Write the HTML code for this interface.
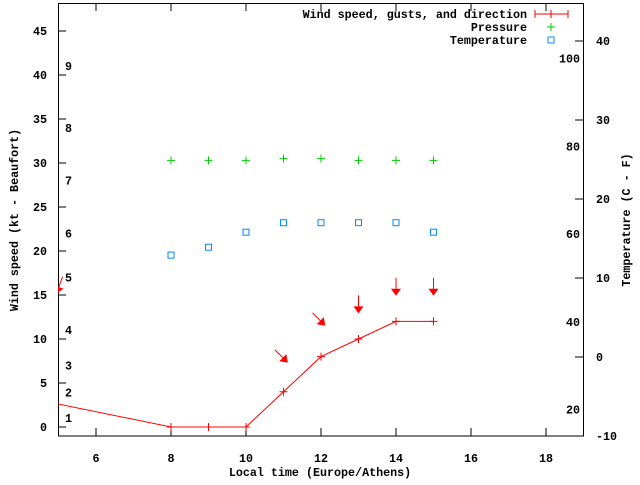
<!DOCTYPE html>
<html><head><meta charset="utf-8"><style>
body{margin:0;background:#fff}
svg text{font-family:"Liberation Mono",monospace;font-size:11.7px;font-weight:bold;fill:#000}
</style></head><body>
<svg width="640" height="480" xmlns="http://www.w3.org/2000/svg">
<defs><clipPath id="clip"><rect x="58" y="3" width="525" height="433"/></clipPath></defs>
<g id="axes"></g>
<g id="marks" clip-path="url(#clip)"></g>
<g id="legend"></g>
</svg>
<script>
const hours=[4,8,9,10,11,12,13,14,15];
const wind=[3.47,0,0,0,4,8,10,12,12];
const pHours=[8,9,10,11,12,13,14,15];
const pressure=[30.3,30.3,30.3,30.5,30.5,30.3,30.3,30.3];
const tHours=[8,9,10,11,12,13,14,15];
const temperature=[12.9,13.9,15.8,17,17,17,17,15.8];
const dHours=[5,11,12,13,14,15];
const gust=[15.8,7.8,12,13.6,15.6,15.6];
const dirDeg=[20,315,315,0,0,0];
const xTicks=[6,8,10,12,14,16,18];
const yTicks=[0,5,10,15,20,25,30,35,40,45];
const cTicks=[-10,0,10,20,30,40];
const fTicks=[20,40,60,80,100];
const bft=[[1,1],[2,3.9],[3,7],[4,11],[5,17],[6,22],[7,28],[8,34],[9,41]];
const NS='http://www.w3.org/2000/svg';
const X=h=>58.5+(h-5)*37.5;
const Y=v=>427-v*8.8;
const YC=c=>357-c*7.9;
const YF=f=>YC((f-32)*5/9);
function mk(p,tag,a,txt){const e=document.createElementNS(NS,tag);for(const k in a)e.setAttribute(k,a[k]);if(txt!==undefined)e.textContent=txt;p.appendChild(e);return e;}
const ax=document.getElementById('axes'),mg=document.getElementById('marks'),lg=document.getElementById('legend');
let e=mk(ax,'rect',{x:58.5,y:3.5,width:525,height:432.5,fill:'none',stroke:'#000','stroke-width':1});

xTicks.forEach(t=>{mk(ax,'line',{x1:X(t),x2:X(t),y1:436,y2:428,stroke:'#000'});mk(ax,'line',{x1:X(t),x2:X(t),y1:3,y2:11,stroke:'#000'});
 e=mk(ax,'text',{x:X(t),y:462,'text-anchor':'middle'},t);});
yTicks.forEach(t=>{mk(ax,'line',{x1:58,x2:66,y1:Y(t),y2:Y(t),stroke:'#000'});
 e=mk(ax,'text',{x:47,y:Y(t)+4,'text-anchor':'end'},t);});
cTicks.forEach(t=>{mk(ax,'line',{x1:575,x2:583,y1:YC(t),y2:YC(t),stroke:'#000'});
 e=mk(ax,'text',{x:596,y:YC(t)+4},t);});
fTicks.forEach(t=>{e=mk(ax,'text',{x:580,y:YF(t)+4,'text-anchor':'end'},t);});
bft.forEach(b=>{e=mk(ax,'text',{x:65,y:Y(b[1])+4},b[0]);});
e=mk(ax,'text',{x:320,y:476,'text-anchor':'middle'},'Local time (Europe/Athens)');
e=mk(ax,'text',{x:18,y:220,'text-anchor':'middle',transform:'rotate(-90 18 220)'},'Wind speed (kt - Beaufort)');
e=mk(ax,'text',{x:630,y:220,'text-anchor':'middle',transform:'rotate(-90 630 220)'},'Temperature (C - F)');
e=mk(mg,'polyline',{points:hours.map((h,i)=>X(h)+','+Y(wind[i])).join(' '),fill:'none',stroke:'#f00'});

function plus(g,x,y,c,n){const p=mk(g,'path',{d:`M${x-4},${y}H${x+4}M${x},${y-4}V${y+4}`,stroke:c,fill:'none'});}
hours.forEach((h,i)=>plus(mg,X(h),Y(wind[i]),'#f00','wind-point'));
pHours.forEach((h,i)=>plus(mg,X(h),Y(pressure[i]),'#0c0','pressure-point'));
tHours.forEach((h,i)=>{e=mk(mg,'rect',{x:X(h)-3,y:YC(temperature[i])-3,width:6,height:6,fill:'none',stroke:'#08f'});
 });
dHours.forEach((h,i)=>{const x=X(h),y=Y(gust[i]);const g=mk(mg,'g',{transform:`translate(${x},${y}) rotate(${dirDeg[i]})`});
 
 mk(g,'line',{x1:0,y1:-12,x2:0,y2:2,stroke:'#f00'});mk(g,'polygon',{points:'-5,-1 5,-1 0,6',fill:'#f00'});});
const L=[['Wind speed, gusts, and direction',14],['Pressure',27],['Temperature',40]];
L.forEach(l=>{e=mk(lg,'text',{x:527,y:l[1]+4,'text-anchor':'end'},l[0]);});
mk(lg,'path',{d:'M535,14H568M535,10V18M568,10V18M551,10V18',stroke:'#f00',fill:'none'});
plus(lg,551,27,'#0c0','legend-pressure-marker');
e=mk(lg,'rect',{x:548,y:37,width:6,height:6,fill:'none',stroke:'#08f'});
</script>
</body></html>
